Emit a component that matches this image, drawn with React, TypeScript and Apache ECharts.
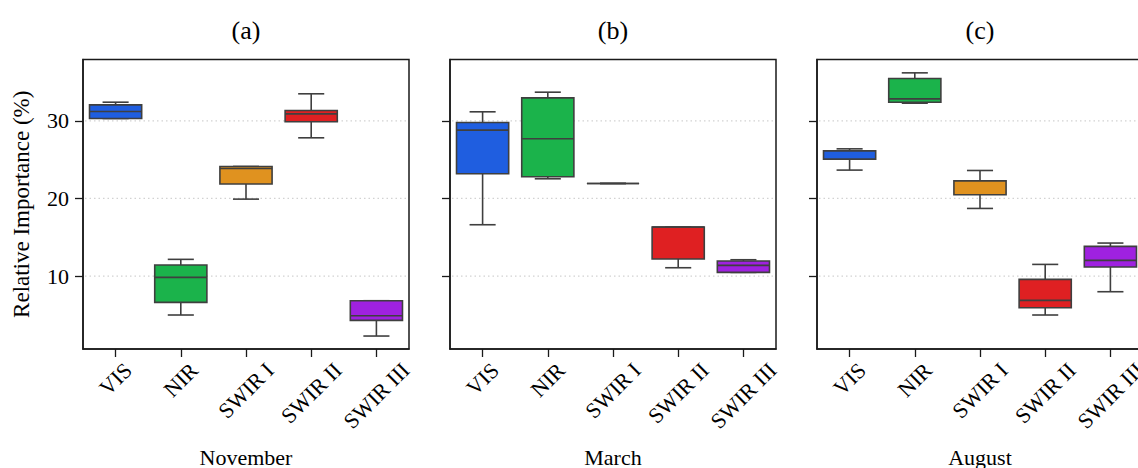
import React, { useEffect, useRef } from 'react';
import * as echarts from 'echarts';

const categories = ['VIS', 'NIR', 'SWIR I', 'SWIR II', 'SWIR III'];
const months = ['November', 'March', 'August'];
const panelTitles = ['(a)', '(b)', '(c)'];
const yTicks = [10, 20, 30];
const yMin = 0.6;
const yMax = 37.9;
const boxColors = ['#1f5ee0', '#1bb34b', '#e0921f', '#df2022', '#9f21e0'];

// each row: [min, Q1, median, Q3, max]
const novemberStats = [
  [30.3, 30.3, 31.2, 32.06, 32.4],
  [4.98, 6.61, 9.83, 11.42, 12.15],
  [19.91, 21.85, 23.86, 24.12, 24.12],
  [27.81, 29.87, 30.9, 31.33, 33.48],
  [2.27, 4.29, 4.89, 6.82, 6.82],
];
const marchStats = [
  [16.61, 23.18, 28.8, 29.79, 31.16],
  [22.53, 22.79, 27.68, 32.96, 33.69],
  [21.93, 21.93, 21.93, 21.93, 21.93],
  [11.07, 12.19, 16.31, 16.31, 16.31],
  [10.47, 10.47, 11.37, 11.93, 12.1],
];
const augustStats = [
  [23.65, 25.06, 26.14, 26.14, 26.39],
  [32.27, 32.4, 32.83, 35.45, 36.18],
  [18.71, 20.47, 22.27, 22.27, 23.6],
  [4.98, 5.92, 6.87, 9.57, 11.5],
  [7.98, 11.16, 12.02, 13.82, 14.25],
];
const panelStats = [novemberStats, marchStats, augustStats];

const FONT = '"Liberation Serif", "DejaVu Serif", serif';
const GRID_LEFTS = [83, 450, 817];
const GRID_TOP = 59.5;
const GRID_W = 326;
const GRID_H = 289.5;
const TICK_FS = 22;
const EDGE = '#3f3f3f';
const AXIS = '#1a1a1a';

let measureCtx: CanvasRenderingContext2D | null = null;
function textWidth(t: string, fs: number) {
  if (!measureCtx) {
    const c = document.createElement('canvas');
    measureCtx = c.getContext('2d');
  }
  if (!measureCtx) return t.length * fs * 0.55;
  measureCtx.font = `${fs}px ${FONT}`;
  return measureCtx.measureText(t).width;
}

export default function App() {
  const ref = useRef<HTMLDivElement>(null);
  useEffect(() => {
    document.body.style.margin = '0';
    if (!ref.current) return;
    const chart = echarts.init(ref.current, undefined, { renderer: 'svg' });

    const grid = GRID_LEFTS.map((l) => ({
      left: l,
      top: GRID_TOP,
      width: GRID_W,
      height: GRID_H,
      show: true,
      borderColor: AXIS,
      borderWidth: 1.5,
      backgroundColor: 'transparent',
      containLabel: false,
      outerBoundsMode: 'none',
    }));

    const xAxis = months.map((m, k) => ({
      type: 'category',
      gridIndex: k,
      data: categories,
      boundaryGap: true,
      axisLine: { show: true, lineStyle: { color: AXIS, width: 1.5 } },
      axisTick: { show: true, alignWithLabel: true, length: 8, lineStyle: { color: AXIS, width: 1.3 } },
      axisLabel: { show: false },
      splitLine: { show: false },
      name: m,
      nameLocation: 'middle',
      nameGap: 97,
      nameTextStyle: { fontSize: 22, fontFamily: FONT, color: '#000' },
    }));

    const yAxis = months.map((_, k) => ({
      type: 'value',
      gridIndex: k,
      min: yMin,
      max: yMax,
      axisLine: { show: true, lineStyle: { color: AXIS, width: 1.5 } },
      axisTick: { show: true, length: 8, customValues: yTicks, lineStyle: { color: AXIS, width: 1.3 } },
      axisLabel: {
        show: k === 0,
        customValues: yTicks,
        margin: 14,
        fontSize: TICK_FS,
        fontFamily: FONT,
        color: '#000',
      },
      splitLine: { show: false },
      name: k === 0 ? 'Relative Importance (%)' : '',
      nameLocation: 'middle',
      nameGap: 50,
      nameRotate: 90,
      nameTextStyle: { fontSize: 23, fontFamily: FONT, color: '#000' },
    }));

    const gridLineSeries = months.map((_, k) => ({
      type: 'custom',
      xAxisIndex: k,
      yAxisIndex: k,
      silent: true,
      z: 1,
      encode: { x: 0, y: 1 },
      data: yTicks.map((v) => [0, v]),
      renderItem: (params: any, api: any) => {
        const cs = params.coordSys;
        const p = api.coord([api.value(0), api.value(1)]);
        return {
          type: 'line',
          shape: { x1: cs.x + 2, y1: p[1], x2: cs.x + cs.width - 2, y2: p[1] },
          style: { stroke: '#d2d2d2', lineWidth: 1.2, lineDash: [1.5, 3] },
        };
      },
    }));

    const boxSeries = panelStats.map((stats, k) => ({
      type: 'custom',
      xAxisIndex: k,
      yAxisIndex: k,
      clip: false,
      z: 3,
      encode: { x: 0, y: [1, 2, 3, 4, 5] },
      data: stats.map((s, i) => [i, ...s]),
      renderItem: (params: any, api: any) => {
        const i = api.value(0);
        const pts = [1, 2, 3, 4, 5].map((d) => api.coord([i, api.value(d)]));
        const cx = pts[0][0];
        const band = api.size([1, 0])[0];
        const bw = band * 0.8;
        const cw = bw / 2;
        const [pMin, pQ1, pMed, pQ3, pMax] = pts.map((p: number[]) => p[1]);
        const ls = { stroke: EDGE, lineWidth: 1.6 };
        return {
          type: 'group',
          children: [
            { type: 'line', shape: { x1: cx, y1: pQ1, x2: cx, y2: pMin }, style: ls },
            { type: 'line', shape: { x1: cx, y1: pQ3, x2: cx, y2: pMax }, style: ls },
            { type: 'line', shape: { x1: cx - cw / 2, y1: pMin, x2: cx + cw / 2, y2: pMin }, style: ls },
            { type: 'line', shape: { x1: cx - cw / 2, y1: pMax, x2: cx + cw / 2, y2: pMax }, style: ls },
            {
              type: 'rect',
              shape: { x: cx - bw / 2, y: pQ3, width: bw, height: pQ1 - pQ3 },
              style: { fill: boxColors[i], stroke: EDGE, lineWidth: 1.6 },
            },
            { type: 'line', shape: { x1: cx - bw / 2, y1: pMed, x2: cx + bw / 2, y2: pMed }, style: ls },
          ],
        };
      },
    }));

    const labelSeries = months.map((_, k) => ({
      type: 'custom',
      xAxisIndex: k,
      yAxisIndex: k,
      clip: false,
      silent: true,
      encode: { x: 0, y: 1 },
      data: categories.map((_, i) => [i, yMin]),
      renderItem: (params: any, api: any) => {
        const i = api.value(0);
        const p = api.coord([i, api.value(1)]);
        const text = categories[i];
        const w = textWidth(text, TICK_FS);
        const h = TICK_FS * 0.7;
        const top = p[1] + 12;
        return {
          type: 'text',
          x: p[0],
          y: top + 0.3536 * (w + h),
          rotation: Math.PI / 4,
          style: {
            text,
            fontSize: TICK_FS,
            fontFamily: FONT,
            fill: '#000',
            align: 'center',
            verticalAlign: 'middle',
          },
        };
      },
    }));

    const graphic = panelTitles.map((t, k) => ({
      type: 'text',
      x: GRID_LEFTS[k] + GRID_W / 2,
      y: 30,
      style: {
        text: t,
        fontSize: 26,
        fontFamily: FONT,
        fill: '#000',
        align: 'center',
        verticalAlign: 'middle',
      },
    }));

    chart.setOption({
      animation: false,
      backgroundColor: '#fff',
      grid,
      xAxis,
      yAxis,
      series: [...gridLineSeries, ...boxSeries, ...labelSeries],
      graphic,
    } as any);

    return () => chart.dispose();
  }, []);

  return (
    <div
      ref={ref}
      style={{ position: 'absolute', left: 0, top: 0, width: 1138, height: 468 }}
    />
  );
}
